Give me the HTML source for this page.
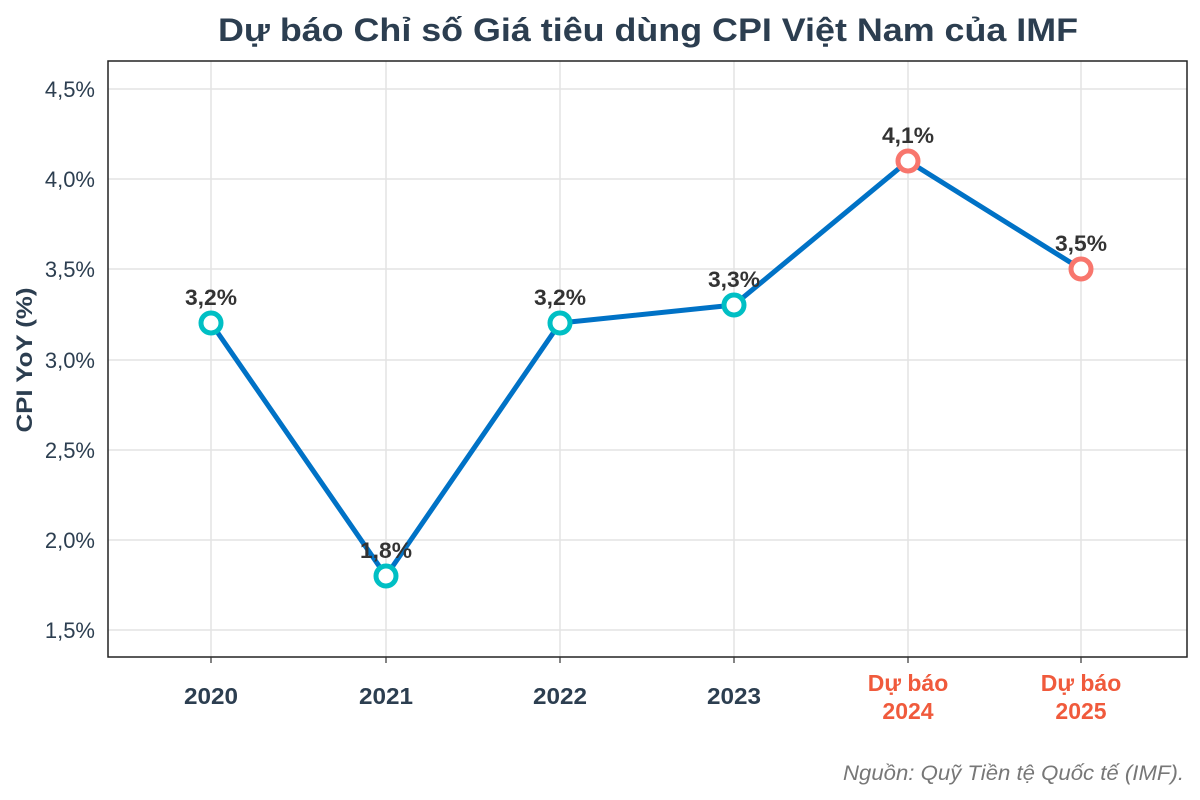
<!DOCTYPE html>
<html><head><meta charset="utf-8"><style>
body{margin:0;background:#fff;}
svg{display:block;font-family:"Liberation Sans",Arial,sans-serif;}
</style></head><body>
<svg width="1200" height="800" viewBox="0 0 1200 800">
<rect width="1200" height="800" fill="#fff"/>
<text x="648" y="41" text-anchor="middle" font-size="32" font-weight="bold" fill="#2c3e50" textLength="860" lengthAdjust="spacingAndGlyphs">Dự báo Chỉ số Giá tiêu dùng CPI Việt Nam của IMF</text>
<g stroke="#e3e3e3" stroke-width="1.5">
<line x1="108" x2="1187" y1="89" y2="89"/>
<line x1="108" x2="1187" y1="179" y2="179"/>
<line x1="108" x2="1187" y1="269" y2="269"/>
<line x1="108" x2="1187" y1="360" y2="360"/>
<line x1="108" x2="1187" y1="450" y2="450"/>
<line x1="108" x2="1187" y1="540" y2="540"/>
<line x1="108" x2="1187" y1="630" y2="630"/>
<line x1="211" x2="211" y1="61" y2="657"/>
<line x1="386" x2="386" y1="61" y2="657"/>
<line x1="560" x2="560" y1="61" y2="657"/>
<line x1="734" x2="734" y1="61" y2="657"/>
<line x1="908" x2="908" y1="61" y2="657"/>
<line x1="1081" x2="1081" y1="61" y2="657"/>
</g>
<rect x="108" y="61" width="1079" height="596" fill="none" stroke="#222" stroke-width="1.5"/>
<g font-size="22" fill="#2c3e50" text-anchor="end">
<text x="95" y="97">4,5%</text><text x="95" y="187">4,0%</text><text x="95" y="277">3,5%</text>
<text x="95" y="368">3,0%</text><text x="95" y="458">2,5%</text><text x="95" y="548">2,0%</text><text x="95" y="638">1,5%</text>
</g>
<g stroke="#333" stroke-width="1.2">
<line x1="211" x2="211" y1="657" y2="663"/><line x1="386" x2="386" y1="657" y2="663"/><line x1="560" x2="560" y1="657" y2="663"/><line x1="734" x2="734" y1="657" y2="663"/><line x1="908" x2="908" y1="657" y2="663"/><line x1="1081" x2="1081" y1="657" y2="663"/>
</g>
<text transform="translate(32,360) rotate(-90)" text-anchor="middle" font-size="22" font-weight="bold" fill="#2c3e50" textLength="145" lengthAdjust="spacingAndGlyphs">CPI YoY (%)</text>
<g font-size="23" font-weight="bold" text-anchor="middle">
<text x="211" y="704" fill="#2c3e50" textLength="54" lengthAdjust="spacingAndGlyphs">2020</text>
<text x="386" y="704" fill="#2c3e50" textLength="54" lengthAdjust="spacingAndGlyphs">2021</text>
<text x="560" y="704" fill="#2c3e50" textLength="54" lengthAdjust="spacingAndGlyphs">2022</text>
<text x="734" y="704" fill="#2c3e50" textLength="54" lengthAdjust="spacingAndGlyphs">2023</text>
<text x="908" y="691" fill="#f05a3c">Dự báo</text><text x="908" y="719" fill="#f05a3c">2024</text>
<text x="1081" y="691" fill="#f05a3c">Dự báo</text><text x="1081" y="719" fill="#f05a3c">2025</text>
</g>
<polyline points="211,323 386,576 560,323 734,305 908,161 1081,269" fill="none" stroke="#0072c6" stroke-width="5" stroke-linejoin="round"/>
<g fill="#fff" stroke-width="5">
<circle cx="211" cy="323" r="10" stroke="#00bfc4"/>
<circle cx="386" cy="576" r="10" stroke="#00bfc4"/>
<circle cx="560" cy="323" r="10" stroke="#00bfc4"/>
<circle cx="734" cy="305" r="10" stroke="#00bfc4"/>
<circle cx="908" cy="161" r="10" stroke="#f8766d"/>
<circle cx="1081" cy="269" r="10" stroke="#f8766d"/>
</g>
<g font-size="22.5" font-weight="bold" fill="#333" text-anchor="middle">
<text x="211" y="305" textLength="52" lengthAdjust="spacingAndGlyphs">3,2%</text>
<text x="386" y="558" textLength="52" lengthAdjust="spacingAndGlyphs">1,8%</text>
<text x="560" y="305" textLength="52" lengthAdjust="spacingAndGlyphs">3,2%</text>
<text x="734" y="287" textLength="52" lengthAdjust="spacingAndGlyphs">3,3%</text>
<text x="908" y="143" textLength="52" lengthAdjust="spacingAndGlyphs">4,1%</text>
<text x="1081" y="251" textLength="52" lengthAdjust="spacingAndGlyphs">3,5%</text>
</g>
<text x="1184" y="780" text-anchor="end" font-size="21" font-style="italic" fill="#777" textLength="341" lengthAdjust="spacingAndGlyphs">Nguồn: Quỹ Tiền tệ Quốc tế (IMF).</text>
</svg>
</body></html>
